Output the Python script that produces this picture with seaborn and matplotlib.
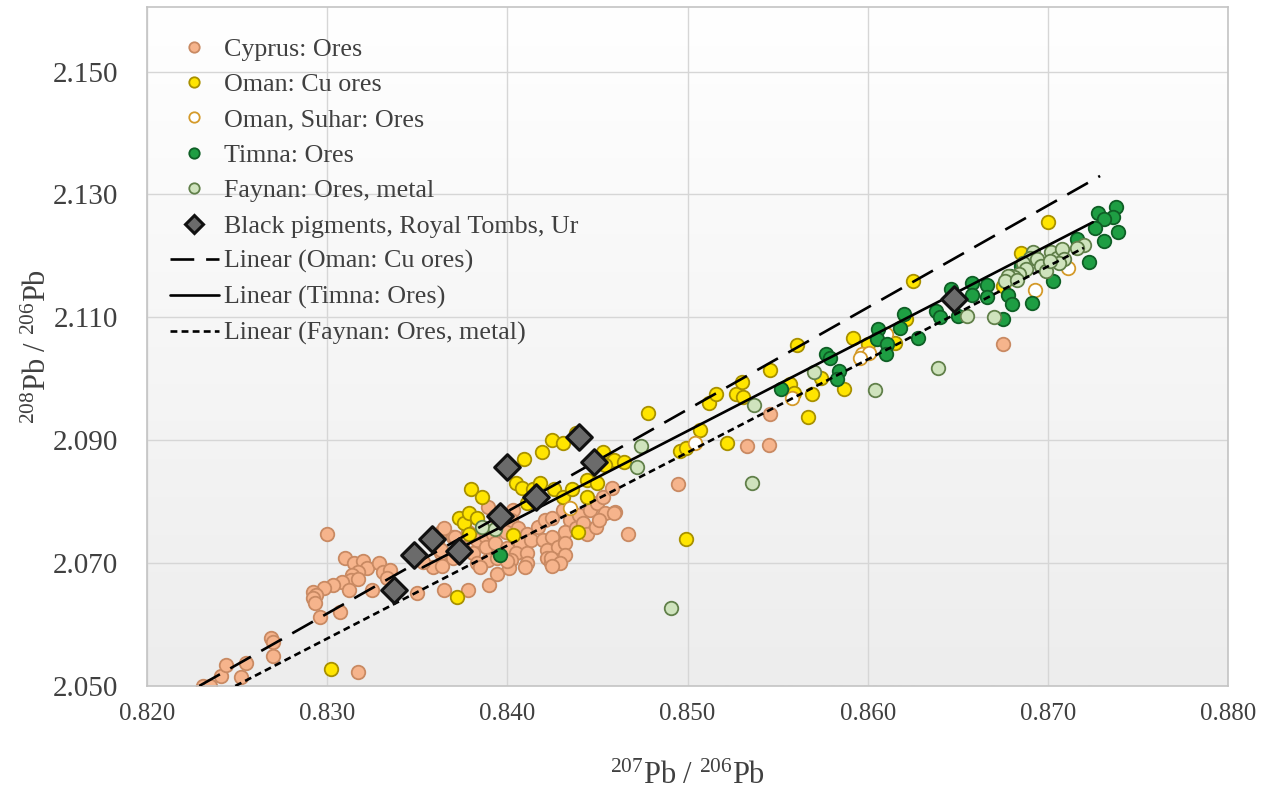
import numpy as np
import pandas as pd
import matplotlib
matplotlib.use("Agg")
import matplotlib.pyplot as plt
import seaborn as sns
from matplotlib.lines import Line2D
from matplotlib.colors import LinearSegmentedColormap

# ---------------- data ----------------
cyprus_x = [0.8231, 0.8235, 0.8241, 0.8244, 0.8252, 0.8255, 0.8269, 0.8270, 0.8270,
            0.8300, 0.8310, 0.8315, 0.8320, 0.8322, 0.8317, 0.8314, 0.8313, 0.8308, 0.8303,
            0.8298, 0.8292, 0.8294, 0.8292, 0.8293, 0.8296, 0.8307, 0.8312, 0.8317, 0.8329,
            0.8331, 0.8335, 0.8333, 0.8325, 0.8350, 0.8365, 0.8317,
            0.8364, 0.8370, 0.8361, 0.8363, 0.8359, 0.8364, 0.8353,
            0.8389, 0.8393, 0.8403, 0.8402, 0.8365, 0.8371, 0.8378, 0.8383, 0.8388, 0.8392,
            0.8399, 0.8406, 0.8411, 0.8417, 0.8421, 0.8425, 0.8431, 0.8435, 0.8440, 0.8446,
            0.8450, 0.8453, 0.8458, 0.8454, 0.8460, 0.8467, 0.8363, 0.8370, 0.8381, 0.8388,
            0.8393, 0.8400, 0.8407, 0.8413, 0.8420, 0.8425, 0.8432, 0.8438, 0.8442, 0.8422,
            0.8428, 0.8432, 0.8405, 0.8411, 0.8402, 0.8411, 0.8422, 0.8424, 0.8428, 0.8432,
            0.8383, 0.8389, 0.8394, 0.8375, 0.8444, 0.8449, 0.8451, 0.8459,
            0.8378, 0.8390, 0.8394, 0.8401, 0.8410, 0.8424, 0.8429, 0.8425, 0.8385, 0.8400,
            0.8495, 0.8533, 0.8545, 0.8546, 0.8675]
cyprus_y = [2.0500, 2.0500, 2.0516, 2.0534, 2.0515, 2.0537, 2.0578, 2.0571, 2.0549,
            2.0748, 2.0708, 2.0700, 2.0703, 2.0692, 2.0685, 2.0680, 2.0672, 2.0669, 2.0664,
            2.0659, 2.0653, 2.0648, 2.0643, 2.0635, 2.0612, 2.0620, 2.0656, 2.0674, 2.0700,
            2.0685, 2.0688, 2.0675, 2.0656, 2.0651, 2.0656, 2.0523,
            2.0753, 2.0742, 2.0732, 2.0716, 2.0693, 2.0696, 2.0701,
            2.0792, 2.0776, 2.0786, 2.0770, 2.0757, 2.0742, 2.0750, 2.0737, 2.0742, 2.0748,
            2.0750, 2.0757, 2.0748, 2.0758, 2.0770, 2.0774, 2.0786, 2.0770, 2.0778, 2.0786,
            2.0797, 2.0807, 2.0823, 2.0781, 2.0783, 2.0748, 2.0721, 2.0709, 2.0716, 2.0726,
            2.0732, 2.0724, 2.0732, 2.0737, 2.0737, 2.0742, 2.0750, 2.0757, 2.0766, 2.0721,
            2.0726, 2.0732, 2.0716, 2.0716, 2.0705, 2.0700, 2.0709, 2.0700, 2.0701, 2.0713,
            2.0700, 2.0705, 2.0709, 2.0726, 2.0748, 2.0758, 2.0770, 2.0782,
            2.0656, 2.0664, 2.0683, 2.0692, 2.0693, 2.0708, 2.0700, 2.0696, 2.0693, 2.0704,
            2.0828, 2.0891, 2.0893, 2.0943, 2.1056]

oman_x = [0.8302, 0.8372, 0.8380, 0.8386, 0.8373, 0.8376, 0.8379, 0.8383, 0.8379,
          0.8409, 0.8419, 0.8425, 0.8431, 0.8438, 0.8405, 0.8408, 0.8414, 0.8418, 0.8411,
          0.8426, 0.8431, 0.8436, 0.8444, 0.8450, 0.8453, 0.8459, 0.8465, 0.8454, 0.8439,
          0.8444, 0.8478, 0.8403, 0.8507, 0.8512, 0.8516, 0.8527, 0.8522, 0.8496, 0.8499,
          0.8499, 0.8530, 0.8531, 0.8546, 0.8561, 0.8557, 0.8559, 0.8569, 0.8567, 0.8574,
          0.8587, 0.8592, 0.8600, 0.8621, 0.8615, 0.8625, 0.8700, 0.8685, 0.8675]
oman_y = [2.0528, 2.0645, 2.0820, 2.0807, 2.0774, 2.0766, 2.0781, 2.0773, 2.0748,
          2.0869, 2.0880, 2.0901, 2.0896, 2.0912, 2.0830, 2.0823, 2.0821, 2.0830, 2.0797,
          2.0820, 2.0807, 2.0821, 2.0836, 2.0831, 2.0880, 2.0867, 2.0865, 2.0859, 2.0750,
          2.0807, 2.0945, 2.0745, 2.0917, 2.0961, 2.0976, 2.0976, 2.0896, 2.0883, 2.0888,
          2.0739, 2.0995, 2.0971, 2.1015, 2.1055, 2.0992, 2.0977, 2.0976, 2.0937, 2.1002,
          2.0984, 2.1067, 2.1057, 2.1097, 2.1058, 2.1159, 2.1255, 2.1205, 2.1151]

suhar_x = [0.8711, 0.8693, 0.8610, 0.8597, 0.8601, 0.8596, 0.8558, 0.8504, 0.8435]
suhar_y = [2.1180, 2.1145, 2.1073, 2.1041, 2.1042, 2.1034, 2.0968, 2.0896, 2.0789]

timna_x = [0.8738, 0.8728, 0.8736, 0.8731, 0.8726, 0.8739, 0.8731, 0.8716, 0.8723,
           0.8703, 0.8691, 0.8678, 0.8680, 0.8675, 0.8666, 0.8666, 0.8658, 0.8658, 0.8650,
           0.8646, 0.8638, 0.8640, 0.8628, 0.8620, 0.8618, 0.8606, 0.8605, 0.8611, 0.8610,
           0.8685, 0.8679, 0.8577, 0.8579, 0.8584, 0.8583, 0.8552, 0.8396]
timna_y = [2.1279, 2.1269, 2.1263, 2.1260, 2.1245, 2.1239, 2.1224, 2.1227, 2.1190,
           2.1159, 2.1123, 2.1136, 2.1122, 2.1097, 2.1153, 2.1133, 2.1156, 2.1136, 2.1102,
           2.1146, 2.1110, 2.1101, 2.1067, 2.1106, 2.1083, 2.1081, 2.1065, 2.1057, 2.1041,
           2.1183, 2.1167, 2.1041, 2.1034, 2.1013, 2.1000, 2.0984, 2.0714]

faynan_x = [0.8692, 0.8690, 0.8694, 0.8686, 0.8688, 0.8696, 0.8699, 0.8702, 0.8705,
            0.8708, 0.8709, 0.8706, 0.8720, 0.8716, 0.8684, 0.8681, 0.8678, 0.8676, 0.8683,
            0.8655, 0.8670, 0.8701, 0.8639, 0.8604, 0.8570, 0.8536, 0.8491, 0.8537, 0.8474,
            0.8472, 0.8386, 0.8393]
faynan_y = [2.1206, 2.1196, 2.1195, 2.1188, 2.1179, 2.1183, 2.1175, 2.1206, 2.1196,
            2.1211, 2.1195, 2.1188, 2.1218, 2.1213, 2.1170, 2.1166, 2.1167, 2.1159, 2.1161,
            2.1102, 2.1101, 2.1192, 2.1018, 2.0982, 2.1011, 2.0830, 2.0627, 2.0958, 2.0890,
            2.0857, 2.0758, 2.0756]

pigment_x = [0.8337, 0.8348, 0.8358, 0.8373, 0.8396, 0.8400, 0.8416, 0.8440, 0.8448, 0.8648]
pigment_y = [2.0656, 2.0713, 2.0739, 2.0719, 2.0776, 2.0856, 2.0807, 2.0906, 2.0864, 2.1130]

# linear trends: slope, intercept, x-range
trend_names = ["Linear (Oman: Cu ores)", "Linear (Timna: Ores)", "Linear (Faynan: Ores, metal)"]
trend_slope = [1.660, 1.510, 1.514]
trend_icept = [0.68399, 0.80800, 0.80110]
trend_xmin = [0.8229, 0.8353, 0.8249]
trend_xmax = [0.8729, 0.8725, 0.8720]

x_ticks = [0.820, 0.830, 0.840, 0.850, 0.860, 0.870, 0.880]
y_ticks = [2.050, 2.070, 2.090, 2.110, 2.130, 2.150]

# ---------------- style ----------------
sns.set_style("white")
plt.rcParams["font.family"] = ["Liberation Serif", "DejaVu Serif"]
plt.rcParams["mathtext.fontset"] = "custom"
plt.rcParams["mathtext.rm"] = "Liberation Serif"
plt.rcParams["mathtext.it"] = "Liberation Serif"
TXT = "#404040"

fig = plt.figure(figsize=(12.82, 7.96), dpi=100)
ax = fig.add_axes([147/1282, 1-686/796, (1228-147)/1282, (686-7)/796])

# background gradient
grad = np.linspace(0, 1, 256).reshape(-1, 1)
cmap = LinearSegmentedColormap.from_list("bg", ["#ededed", "#ffffff"])
ax.imshow(grad, extent=[0, 1, 0, 1], transform=ax.transAxes, origin="lower",
          aspect="auto", cmap=cmap, zorder=0)

groups = [
    ("Cyprus: Ores", cyprus_x, cyprus_y, "#f6b48c", "#c98a63"),
    ("Oman: Cu ores", oman_x, oman_y, "#ffe500", "#a89000"),
    ("Oman, Suhar: Ores", suhar_x, suhar_y, "#ffffff", "#d49a2a"),
    ("Timna: Ores", timna_x, timna_y, "#1e9e43", "#0f5f26"),
    ("Faynan: Ores, metal", faynan_x, faynan_y, "#cfe3bd", "#61804a"),
]
handles = []
for name, xs, ys, fc, ec in groups:
    df = pd.DataFrame({"x": xs, "y": ys})
    sns.scatterplot(data=df, x="x", y="y", ax=ax, s=95, color=fc, edgecolor=ec,
                    linewidth=1.3, zorder=2, legend=False)
    handles.append(Line2D([], [], ls="none", marker="o", markersize=7.5,
                          markerfacecolor=fc, markeredgecolor=ec, markeredgewidth=1.3,
                          label=name))

pdf = pd.DataFrame({"x": pigment_x, "y": pigment_y})
sns.scatterplot(data=pdf, x="x", y="y", ax=ax, marker="D", s=170, color="#6b6b6b",
                edgecolor="#111111", linewidth=2.2, zorder=4, legend=False)
handles.append(Line2D([], [], ls="none", marker="D", markersize=9,
                      markerfacecolor="#6b6b6b", markeredgecolor="#111111",
                      markeredgewidth=2.2, label="Black pigments, Royal Tombs, Ur"))

dash_styles = [(0, (9, 4.5)), "-", (0, (2.6, 1.6))]
for name, m, b, x0, x1, ls in zip(trend_names, trend_slope, trend_icept,
                                  trend_xmin, trend_xmax, dash_styles):
    xx = np.array([x0, x1])
    ldf = pd.DataFrame({"x": xx, "y": m * xx + b})
    sns.lineplot(data=ldf, x="x", y="y", ax=ax, color="black", lw=1.9,
                 linestyle=ls, zorder=3, legend=False)
    handles.append(Line2D([], [], color="black", lw=1.9, linestyle=ls, label=name))

ax.set_xlim(0.820, 0.880)
ax.set_ylim(2.050, 2.1605)
ax.set_xticks(x_ticks)
ax.set_yticks(y_ticks)
ax.set_xticklabels([f"{v:.3f}" for v in x_ticks])
ax.set_yticklabels([f"{v:.3f}" for v in y_ticks])
ax.tick_params(axis="y", length=0, pad=21, labelsize=21, labelcolor=TXT)
ax.tick_params(axis="x", length=0, pad=12, labelsize=18, labelcolor=TXT)
ax.set_axisbelow(True)
ax.grid(True, color="#d6d6d6", lw=1.0, zorder=0.5)
for sp in ax.spines.values():
    sp.set_color("#c4c4c4")
    sp.set_linewidth(1.2)

ax.set_xlabel(r"$^{\mathrm{207}}$Pb / $^{\mathrm{206}}$Pb", fontsize=22, color=TXT)
ax.set_ylabel(r"$^{\mathrm{208}}$Pb / $^{\mathrm{206}}$Pb", fontsize=22, color=TXT)
ax.xaxis.set_label_coords(0.5, -0.112)
ax.yaxis.set_label_coords(-0.087, 0.5)

leg = ax.legend(handles=handles, loc="upper left", bbox_to_anchor=(0.0065, 0.978),
                frameon=False, fontsize=18.7, handlelength=1.9, handletextpad=0.2,
                labelspacing=0.47, borderaxespad=0.3, borderpad=0.3)
for t in leg.get_texts():
    t.set_color(TXT)

fig.savefig("out.png", dpi=100, facecolor="white")
